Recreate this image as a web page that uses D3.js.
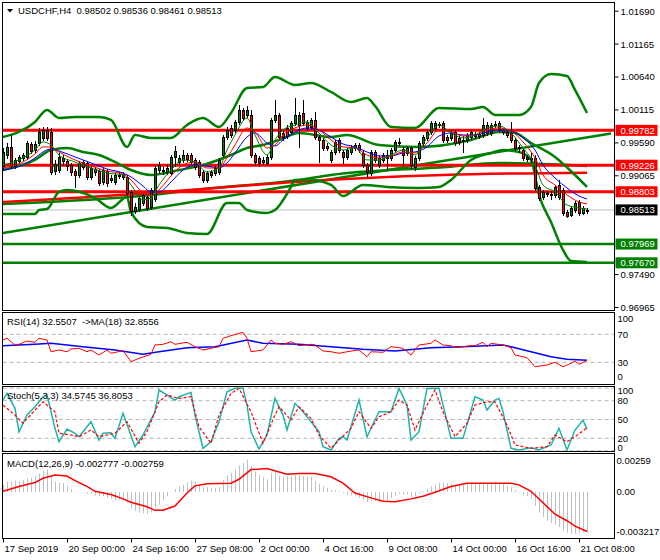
<!DOCTYPE html>
<html><head><meta charset="utf-8">
<script src="https://cdn.jsdelivr.net/npm/d3@7"></script>
<style>
html,body{margin:0;padding:0;background:#fff;}
svg{display:block;}
text{font-family:"Liberation Sans",Arial,sans-serif;font-size:9.5px;fill:#000;white-space:pre;}
</style></head><body>
<svg id="c" width="660" height="560"></svg>
<script>
// ---------------- DATA ----------------
const symbol = "USDCHF,H4";
const open = [0.99214,0.99389,0.99517,0.99214,0.99294,0.99342,0.99358,0.99565,0.99469,0.99581,
0.99661,0.99788,0.99756,0.99134,0.99150,0.99342,0.99294,0.99230,0.99134,0.99070,
0.99278,0.99262,0.99039,0.99166,0.99134,0.98959,0.99134,0.98991,0.98959,0.99055,
0.99086,0.99039,0.98799,0.98496,0.98528,0.98624,0.98720,0.98560,0.98688,0.99150,
0.99134,0.99118,0.99102,0.99358,0.99278,0.99310,0.99389,0.99389,0.99310,0.99278,
0.99118,0.98991,0.99118,0.99102,0.99118,0.99389,0.99676,0.99820,0.99788,0.99916,
1.00107,1.00027,1.00027,0.99389,0.99342,0.99310,0.99262,0.99358,0.99948,1.00027,
0.99740,0.99820,0.99756,0.99900,0.99868,1.00059,0.99820,0.99836,0.99948,0.99676,
0.99629,0.99533,0.99310,0.99437,0.99629,0.99437,0.99358,0.99437,0.99501,0.99549,
0.99421,0.99230,0.99102,0.99437,0.99230,0.99310,0.99342,0.99342,0.99469,0.99597,
0.99485,0.99421,0.99501,0.99198,0.99342,0.99581,0.99661,0.99756,0.99820,0.99868,
0.99900,0.99676,0.99661,0.99756,0.99661,0.99629,0.99629,0.99676,0.99724,0.99692,
0.99708,0.99868,0.99740,0.99884,0.99900,0.99788,0.99756,0.99740,0.99629,0.99517,
0.99469,0.99358,0.99342,0.99342,0.98879,0.98720,0.98784,0.98768,0.98752,0.98911,
0.98831,0.98481,0.98433,0.98512,0.98640,0.98465,0.98502];
const high = [0.99501,0.99581,0.99708,0.99342,0.99389,0.99421,0.99613,0.99597,0.99613,0.99820,
0.99836,0.99836,0.99820,0.99310,0.99421,0.99389,0.99326,0.99262,0.99166,0.99294,
0.99310,0.99294,0.99214,0.99198,0.99166,0.99182,0.99166,0.99070,0.99102,0.99118,
0.99118,0.99070,0.98831,0.98624,0.98736,0.98784,0.98752,0.98863,0.99214,0.99278,
0.99198,0.99230,0.99389,0.99533,0.99389,0.99469,0.99421,0.99421,0.99342,0.99310,
0.99150,0.99134,0.99150,0.99214,0.99342,0.99708,0.99836,0.99868,0.99948,1.00187,
1.00139,1.00171,1.00107,0.99421,0.99374,0.99358,0.99389,0.99979,1.00266,1.00059,
0.99772,0.99868,0.99932,1.00298,1.00075,1.00266,0.99948,0.99979,1.00075,0.99708,
0.99661,0.99581,0.99469,0.99629,0.99661,0.99469,0.99501,0.99549,0.99581,0.99581,
0.99469,0.99262,0.99469,0.99469,0.99389,0.99421,0.99469,0.99501,0.99629,0.99661,
0.99517,0.99533,0.99533,0.99374,0.99613,0.99708,0.99788,0.99932,0.99932,0.99916,
0.99932,0.99708,0.99788,0.99788,0.99692,0.99692,0.99740,0.99788,0.99756,0.99756,
0.99979,0.99916,0.99900,0.99932,0.99932,0.99820,0.99788,0.99916,0.99661,0.99549,
0.99501,0.99389,0.99421,0.99389,0.98911,0.98831,0.98815,0.98815,0.98911,0.98991,
0.98863,0.98512,0.98576,0.98656,0.98672,0.98576,0.98536];
const low = [0.99150,0.99342,0.99182,0.99182,0.99262,0.99310,0.99326,0.99421,0.99437,0.99549,
0.99629,0.99629,0.99086,0.99086,0.99118,0.99230,0.99150,0.99070,0.98879,0.99039,
0.99166,0.99007,0.99007,0.99070,0.98911,0.98927,0.98895,0.98959,0.98927,0.99023,
0.99007,0.98752,0.98433,0.98465,0.98496,0.98592,0.98512,0.98528,0.98656,0.99118,
0.99086,0.99086,0.99070,0.99214,0.99246,0.99278,0.99294,0.99246,0.99166,0.99039,
0.98959,0.98959,0.99039,0.99070,0.99086,0.99358,0.99645,0.99676,0.99756,0.99884,
0.99948,0.99995,0.99358,0.99230,0.99214,0.99246,0.99230,0.99326,0.99916,0.99645,
0.99629,0.99661,0.99724,0.99868,0.99517,0.99868,0.99788,0.99804,0.99645,0.99278,
0.99469,0.99469,0.99278,0.99405,0.99437,0.99262,0.99326,0.99405,0.99469,0.99437,
0.99198,0.99039,0.99070,0.99278,0.99198,0.99278,0.99150,0.99310,0.99437,0.99549,
0.99230,0.99389,0.99182,0.99150,0.99310,0.99549,0.99629,0.99724,0.99788,0.99836,
0.99597,0.99597,0.99629,0.99549,0.99565,0.99437,0.99597,0.99645,0.99661,0.99661,
0.99676,0.99708,0.99708,0.99836,0.99756,0.99724,0.99676,0.99597,0.99469,0.99437,
0.99310,0.99294,0.99278,0.98831,0.98672,0.98688,0.98736,0.98688,0.98720,0.98688,
0.98433,0.98401,0.98417,0.98481,0.98433,0.98449,0.98461];
const close = [0.99437,0.99517,0.99214,0.99310,0.99358,0.99389,0.99581,0.99453,0.99565,0.99756,
0.99788,0.99661,0.99118,0.99246,0.99358,0.99294,0.99214,0.99118,0.99070,0.99262,
0.99198,0.99039,0.99182,0.99118,0.98943,0.99150,0.98943,0.99023,0.99070,0.99070,
0.99039,0.98784,0.98496,0.98560,0.98704,0.98752,0.98544,0.98831,0.99182,0.99230,
0.99150,0.99182,0.99358,0.99453,0.99342,0.99389,0.99326,0.99278,0.99198,0.99070,
0.98991,0.99102,0.99070,0.99182,0.99310,0.99676,0.99788,0.99708,0.99916,1.00107,
0.99979,1.00107,0.99389,0.99278,0.99262,0.99278,0.99358,0.99948,1.00027,0.99676,
0.99676,0.99692,0.99900,1.00027,1.00027,0.99900,0.99916,0.99948,0.99676,0.99629,
0.99501,0.99501,0.99437,0.99597,0.99469,0.99358,0.99469,0.99517,0.99549,0.99469,
0.99230,0.99118,0.99437,0.99310,0.99342,0.99389,0.99389,0.99469,0.99597,0.99581,
0.99389,0.99501,0.99230,0.99342,0.99581,0.99676,0.99756,0.99900,0.99900,0.99884,
0.99629,0.99629,0.99756,0.99581,0.99597,0.99613,0.99708,0.99756,0.99692,0.99724,
0.99868,0.99740,0.99868,0.99868,0.99788,0.99756,0.99708,0.99629,0.99501,0.99501,
0.99342,0.99326,0.99326,0.98863,0.98704,0.98799,0.98768,0.98752,0.98879,0.98720,
0.98465,0.98417,0.98544,0.98624,0.98465,0.98544,0.98513];

// thin moving averages (fast green, mid red, slow blue), read at these bars
const maIdx  = [0,5,8,10,12,14,18,22,26,30,32,35,37,39,42,45,48,51,54,56,58,61,63,66,68,70,73,76,79,82,85,88,91,94,97,100,103,106,109,112,115,118,121,124,127,130,133,135,138,141,144,146];
const maFast = [0.99230,0.99342,0.99469,0.99597,0.99549,0.99389,0.99278,0.99182,0.99102,0.99070,0.98911,0.98672,0.98704,0.98911,0.99150,0.99310,0.99278,0.99118,0.99182,0.99469,0.99708,0.99979,0.99708,0.99389,0.99629,0.99788,0.99868,0.99916,0.99740,0.99549,0.99469,0.99501,0.99310,0.99310,0.99389,0.99469,0.99389,0.99661,0.99868,0.99740,0.99661,0.99708,0.99820,0.99852,0.99740,0.99501,0.99230,0.98911,0.98799,0.98592,0.98544,0.98528];
const maMid  = [0.99182,0.99278,0.99405,0.99517,0.99517,0.99437,0.99310,0.99214,0.99134,0.99086,0.98991,0.98784,0.98736,0.98831,0.99055,0.99230,0.99278,0.99182,0.99182,0.99342,0.99549,0.99820,0.99756,0.99501,0.99549,0.99708,0.99820,0.99868,0.99788,0.99629,0.99517,0.99501,0.99389,0.99342,0.99374,0.99437,0.99421,0.99581,0.99788,0.99756,0.99692,0.99708,0.99788,0.99820,0.99772,0.99597,0.99342,0.99070,0.98911,0.98752,0.98640,0.98608];
const maSlow = [0.99150,0.99230,0.99342,0.99437,0.99485,0.99453,0.99358,0.99262,0.99166,0.99102,0.99039,0.98895,0.98799,0.98799,0.98959,0.99150,0.99230,0.99214,0.99182,0.99262,0.99421,0.99676,0.99740,0.99581,0.99533,0.99629,0.99756,0.99820,0.99788,0.99676,0.99565,0.99517,0.99437,0.99374,0.99374,0.99421,0.99437,0.99517,0.99692,0.99740,0.99708,0.99708,0.99756,0.99788,0.99772,0.99661,0.99469,0.99230,0.99023,0.98863,0.98736,0.98688];

// bands
const bbUpIdx = [0,4,8,11,14,18,24,27,31,33,37,42,46,50,54,57,61,65,68,73,77,82,87,91,93,97,103,109,117,120,123,129,132,134,137,141,143,146];
const bbUpVal = [0.99676,0.99756,0.99916,1.00107,0.99979,0.99995,0.99995,0.99948,0.99517,0.99708,0.99661,0.99661,0.99868,0.99979,0.99836,1.00059,1.00458,1.00474,1.00633,1.00506,1.00537,1.00394,1.00235,1.00298,1.00171,0.99836,0.99820,1.00139,1.00123,1.00155,1.00027,1.00027,1.00155,1.00537,1.00681,1.00649,1.00426,1.00059];
const bbMidIdx = [0,8,12,16,20,24,28,32,37,44,50,57,61,65,69,74,82,86,94,104,117,124,128,132,138,143,146];
const bbMidVal = [0.99150,0.99310,0.99469,0.99501,0.99437,0.99389,0.99278,0.99150,0.99070,0.99150,0.99230,0.99389,0.99501,0.99549,0.99629,0.99740,0.99676,0.99708,0.99549,0.99517,0.99629,0.99756,0.99740,0.99581,0.99358,0.99070,0.98879];
const bbLowIdx = [0,8,9,11,14,16,23,27,31,32,36,41,46,51,56,59,61,66,68,72,73,77,82,85,90,96,104,109,112,117,122,125,129,132,134,137,140,142,146];
const bbLowVal = [0.98449,0.98449,0.98512,0.98528,0.98799,0.98831,0.98704,0.98544,0.98720,0.98481,0.98242,0.98226,0.98146,0.98130,0.98624,0.98624,0.98512,0.98465,0.98512,0.98879,0.98991,0.98991,0.98911,0.98736,0.98911,0.98879,0.98863,0.98879,0.98991,0.99310,0.99421,0.99469,0.99437,0.99310,0.98752,0.98321,0.97875,0.97699,0.97683];

// long lines
const redLongIdx = [0,36,50,73,110,146];
const redLongVal = [0.98640,0.98779,0.98847,0.98959,0.99070,0.99107];
const greenLongIdx = [0,37,50,74,82,111,124,146];
const greenLongVal = [0.98608,0.98752,0.98847,0.98991,0.99070,0.99198,0.99262,0.99214];
const trendIdx = [0,152];
const trendVal = [0.98146,0.99732];

// levels
const redLevels = [0.99782,0.99226,0.98803];
const greenLevels = [0.97969,0.97670];
const lastPrice = 0.98513;
const priceTicks = [1.01690,1.01165,1.00640,1.00115,0.99590,0.99065,0.97490,0.96965];

// RSI
const rsiIdx = [0,1,3,4,6,8,9,11,12,14,16,17,19,21,22,24,26,27,30,32,34,37,38,40,42,43,46,48,50,52,54,55,57,60,61,62,65,67,68,70,72,74,77,78,80,82,84,87,89,91,92,95,97,100,102,104,107,108,110,112,113,117,118,120,121,122,125,127,128,131,133,136,138,140,142,143,144,146];
const rsiVal = [61.9,64.3,54.7,55.7,60.4,58.6,64.3,61.9,45.1,47.6,45.1,49.0,50.0,45.1,47.6,40.4,47.6,42.9,46.6,30.9,35.7,41.4,54.7,55.7,59.4,55.7,58.6,52.3,47.6,50.0,52.3,64.3,68.0,72.9,64.3,45.1,47.6,61.9,57.1,55.7,59.4,53.7,55.7,54.7,46.1,45.1,42.9,46.1,47.6,38.0,45.1,44.3,52.3,50.0,40.4,54.7,57.1,61.9,54.7,53.7,50.9,53.7,53.7,58.6,52.3,57.1,54.7,50.9,40.4,36.6,23.7,26.1,30.0,23.7,28.6,31.9,27.1,32.55];
const rsiMaIdx = [0,8,12,20,28,35,39,46,53,61,65,74,82,90,98,107,115,125,128,132,137,141,146];
const rsiMaVal = [53.7,55.7,57.1,52.3,47.6,41.4,45.1,50.9,52.3,61.9,57.1,55.7,52.3,48.6,46.1,50.9,52.3,54.7,50.9,45.1,38.0,34.3,32.86];
const rsiLevels = [70,30];
const rsiLabels = [100,70,30,0];

// Stochastic
const stochKIdx = [0,1,3,4,6,8,10,11,13,14,16,18,19,22,24,25,27,28,30,33,35,38,39,43,44,47,48,50,52,54,56,58,60,61,62,64,66,68,70,71,73,75,77,79,80,82,84,85,86,89,91,94,97,99,101,102,104,106,109,112,115,118,120,121,123,124,125,127,129,132,134,137,139,141,143,145,146];
const stochKVal = [81.0,91.7,67.8,30.5,57.1,70.3,86.3,89.0,35.9,14.5,34.8,27.9,22.5,46.4,17.2,27.9,28.9,19.9,59.8,6.5,25.2,62.4,97.0,81.0,86.3,93.3,57.1,4.0,14.5,46.4,94.3,100,100,73.1,30.5,2.9,25.2,83.7,57.1,33.2,75.8,62.4,46.4,30.5,6.5,1.3,19.9,22.5,17.2,81.0,22.5,62.4,62.4,99.7,73.1,17.2,30.5,99.7,100,19.9,19.9,86.3,81.0,65.1,81.0,83.7,62.4,4.0,1.3,4.9,1.3,9.3,35.9,1.3,33.2,49.1,34.57];
const stochDIdx = [0,3,5,8,10,13,14,17,19,22,24,28,31,34,36,39,41,44,47,49,52,54,57,59,62,65,68,69,72,74,77,79,82,84,87,89,92,94,97,99,101,103,106,108,110,113,116,118,121,123,126,128,132,136,138,141,143,146];
const stochDVal = [73.1,57.1,43.9,65.1,78.3,62.4,27.9,25.2,22.5,33.2,22.5,27.9,46.4,12.0,30.5,78.3,89.0,83.7,86.3,38.4,12.0,57.1,91.7,99.7,62.4,12.0,57.1,70.3,49.1,70.3,51.8,25.2,4.0,17.2,35.9,62.4,35.9,54.4,62.4,81.0,73.1,33.2,73.1,97.0,62.4,22.5,43.9,73.1,78.3,78.3,41.2,9.3,4.0,6.5,25.2,14.5,22.5,36.81];
const stochLevels = [100,80,50,20,0];
const stochLabels = [100,80,50,20,0];

// MACD
const macdHist = [0.00050,0.00073,0.00073,0.00080,0.00073,0.00084,0.00096,0.00103,0.00107,0.00130,
0.00148,0.00157,0.00103,0.00073,0.00066,0.00062,0.00043,0.00021,0.00005,0.00002,
-0.00002,-0.00011,-0.00014,-0.00025,-0.00030,-0.00030,-0.00041,-0.00048,-0.00057,-0.00052,
-0.00048,-0.00075,-0.00116,-0.00132,-0.00144,-0.00148,-0.00155,-0.00144,-0.00109,-0.00087,
-0.00057,-0.00030,-0.00002,0.00021,0.00039,0.00050,0.00066,0.00080,0.00073,0.00050,
0.00034,0.00034,0.00027,0.00027,0.00034,0.00084,0.00119,0.00135,0.00157,0.00187,
0.00203,0.00226,0.00180,0.00141,0.00119,0.00103,0.00089,0.00135,0.00141,0.00112,
0.00107,0.00107,0.00112,0.00119,0.00119,0.00112,0.00107,0.00107,0.00080,0.00057,
0.00039,0.00027,0.00016,0.00011,0.00005,-0.00007,-0.00018,-0.00025,-0.00030,-0.00041,
-0.00052,-0.00071,-0.00064,-0.00064,-0.00071,-0.00071,-0.00057,-0.00041,-0.00025,-0.00011,
-0.00018,-0.00018,-0.00034,-0.00030,-0.00011,0.00005,0.00021,0.00039,0.00050,0.00066,
0.00066,0.00062,0.00062,0.00050,0.00050,0.00050,0.00062,0.00062,0.00062,0.00062,
0.00066,0.00066,0.00066,0.00073,0.00066,0.00057,0.00043,0.00034,0.00016,-0.00002,
-0.00018,-0.00030,-0.00048,-0.00098,-0.00144,-0.00178,-0.00201,-0.00217,-0.00230,-0.00246,
-0.00269,-0.00285,-0.00292,-0.00292,-0.00285,-0.00280,-0.002777];
const macdSigIdx = [0,4,8,10,13,16,18,21,23,27,30,32,36,38,40,43,46,48,51,57,59,62,66,71,74,78,82,85,88,92,95,98,102,105,108,112,116,123,127,129,132,135,138,141,143,146];
const macdSigVal = [0.00005,0.00039,0.00066,0.00096,0.00119,0.00112,0.00080,0.00039,0.00005,-0.00018,-0.00048,-0.00071,-0.00103,-0.00128,-0.00128,-0.00098,-0.00007,0.00043,0.00057,0.00062,0.00089,0.00157,0.00164,0.00125,0.00130,0.00130,0.00107,0.00062,-0.00007,-0.00041,-0.00064,-0.00068,-0.00048,-0.00030,-0.00002,0.00039,0.00062,0.00062,0.00062,0.00050,0.00005,-0.00075,-0.00155,-0.00201,-0.00239,-0.002759];
const macdLabels = ["0.00259","0.00","-0.003217"];
const macdLabelVals = [0.00259,0,-0.003217];

// time axis
const tickBars = [0,16,32,48,64,80,96,112,128,144];
const tickLabels = ["17 Sep 2019","20 Sep 00:00","24 Sep 16:00","27 Sep 08:00","2 Oct 00:00","4 Oct 16:00","9 Oct 08:00","14 Oct 00:00","16 Oct 16:00","21 Oct 08:00"];

// headers
const rsiTitle = "RSI(14) 32.5507  ->MA(18) 32.8556";
const stochTitle = "Stoch(5,3,3) 34.5745 36.8053";
const macdTitle = "MACD(12,26,9) -0.002777 -0.002759";

// ---------------- DRAW ----------------
const svg = d3.select('#c');
const FL = 2.5, FR = 614.5;
const P = {main:{t:2.5,b:310.5}, rsi:{t:312.5,b:384.5}, sto:{t:386.5,b:451.5}, macd:{t:453.5,b:538.5}};
const fmt5 = d3.format('.5f');
const x = d3.scaleLinear().domain([0,146]).range([3,587]);
const y = d3.scaleLinear().domain([0.96965,1.01690]).range([307,10.7]);
const yR = d3.scaleLinear().domain([0,100]).range([383.3,313.3]);
const yS = d3.scaleLinear().domain([0,100]).range([450.8,388.2]);
const yM = d3.scaleLinear().domain([-0.003217,0.00259]).range([538,455]);
const pts = (idx, vals) => idx.map((d,k)=>[d, vals[k]]);

const defs = svg.append('defs');
Object.entries(P).forEach(([k,p])=>{
  defs.append('clipPath').attr('id','clip-'+k).append('rect')
    .attr('x',FL+0.5).attr('y',p.t+0.5).attr('width',FR-FL-1).attr('height',p.b-p.t-1);
});

// ---- main panel ----
const gMain = svg.append('g').attr('clip-path','url(#clip-main)');
const hline = (g, v, color, w) => g.append('line').attr('x1',FL).attr('x2',FR)
  .attr('y1',y(v)).attr('y2',y(v)).attr('stroke',color).attr('stroke-width',w);
hline(gMain, lastPrice, '#c0c0c0', 1);

const lineP = d3.line().x(d=>x(d[0])).y(d=>y(d[1]));
const lineS = d3.line().x(d=>x(d[0])).y(d=>y(d[1])).curve(d3.curveMonotoneX);

gMain.append('path').attr('d', lineP(pts(trendIdx,trendVal))).attr('fill','none').attr('stroke','#008000').attr('stroke-width',2.5);
gMain.append('path').attr('d', lineS(pts(greenLongIdx,greenLongVal))).attr('fill','none').attr('stroke','#008000').attr('stroke-width',2.5);
gMain.append('path').attr('d', lineS(pts(redLongIdx,redLongVal))).attr('fill','none').attr('stroke','#ff0000').attr('stroke-width',2.5);
redLevels.forEach(v=>hline(gMain, v, '#ff0000', 3));
greenLevels.forEach(v=>hline(gMain, v, '#008000', 2.5));
[[bbUpIdx,bbUpVal],[bbMidIdx,bbMidVal],[bbLowIdx,bbLowVal]].forEach(([a,b])=>{
  gMain.append('path').attr('d', lineS(pts(a,b))).attr('fill','none').attr('stroke','#008000').attr('stroke-width',2.5);
});

// candles
const gC = gMain.append('g');
open.forEach((o,i)=>{
  const c = close[i], h = high[i], l = low[i];
  const cx = Math.round(x(i));
  gC.append('line').attr('x1',cx+0.5).attr('x2',cx+0.5)
    .attr('y1',Math.round(y(h))).attr('y2',Math.round(y(l))+1).attr('stroke','#000').attr('stroke-width',1);
  const yt = Math.round(y(Math.max(o,c))), yb = Math.round(y(Math.min(o,c)));
  if (yb - yt < 1) {
    gC.append('line').attr('x1',cx-1).attr('x2',cx+2).attr('y1',yt+0.5).attr('y2',yt+0.5).attr('stroke','#000');
  } else {
    gC.append('rect').attr('x',cx-0.5).attr('y',yt+0.5).attr('width',2).attr('height',yb-yt)
      .attr('fill', c >= o ? '#008000' : '#ff0000').attr('stroke','#000').attr('stroke-width',1);
  }
});

// thin MAs
[[maSlow,'#0000ff'],[maMid,'#ff0000'],[maFast,'#008000']].forEach(([v,col])=>{
  gMain.append('path').attr('d', lineS(pts(maIdx,v))).attr('fill','none').attr('stroke',col).attr('stroke-width',1);
});

// ---- RSI ----
const gR = svg.append('g').attr('clip-path','url(#clip-rsi)');
rsiLevels.forEach(v=>gR.append('line').attr('x1',FL).attr('x2',FR).attr('y1',yR(v)).attr('y2',yR(v))
  .attr('stroke','#b4b4b4').attr('stroke-dasharray','4,3'));
const lineR = d3.line().x(d=>x(d[0])).y(d=>yR(d[1]));
gR.append('path').attr('d', lineR(pts(rsiMaIdx,rsiMaVal))).attr('fill','none').attr('stroke','#0000ff').attr('stroke-width',1.5);
gR.append('path').attr('d', lineR(pts(rsiIdx,rsiVal))).attr('fill','none').attr('stroke','#ff0000').attr('stroke-width',1);

// ---- Stochastic ----
const gS = svg.append('g').attr('clip-path','url(#clip-sto)');
stochLevels.forEach(v=>gS.append('line').attr('x1',FL).attr('x2',FR).attr('y1',yS(v)).attr('y2',yS(v))
  .attr('stroke','#b4b4b4').attr('stroke-dasharray','4,3'));
const lineSt = d3.line().x(d=>x(d[0])).y(d=>yS(d[1]));
gS.append('path').attr('d', lineSt(pts(stochKIdx,stochKVal))).attr('fill','none').attr('stroke','#20b2aa').attr('stroke-width',1.5);
gS.append('path').attr('d', lineSt(pts(stochDIdx,stochDVal))).attr('fill','none').attr('stroke','#ff0000').attr('stroke-width',1.2).attr('stroke-dasharray','3,2');

// ---- MACD ----
const gM = svg.append('g').attr('clip-path','url(#clip-macd)');
macdHist.forEach((v,i)=>{
  const cx = Math.round(x(i)) + 0.5;
  gM.append('line').attr('x1',cx).attr('x2',cx).attr('y1',yM(0)).attr('y2',yM(v))
    .attr('stroke','#c0c0c0').attr('stroke-width',1);
});
const lineM = d3.line().x(d=>x(d[0])).y(d=>yM(d[1]));
gM.append('path').attr('d', lineM(pts(macdSigIdx,macdSigVal))).attr('fill','none').attr('stroke','#ff0000').attr('stroke-width',1.5);

// ---- frames ----
Object.values(P).forEach(p=>{
  svg.append('rect').attr('x',FL).attr('y',p.t).attr('width',FR-FL).attr('height',p.b-p.t)
    .attr('fill','none').attr('stroke','#000').attr('stroke-width',1);
});

// ---- price axis ----
const ax = svg.append('g').attr('transform',`translate(${FR},0)`)
  .call(d3.axisRight(y).tickValues(priceTicks).tickFormat(fmt5).tickSize(4).tickPadding(2));
ax.select('.domain').remove();
ax.selectAll('text').attr('dy','0.36em');

// level boxes
const box = (v, col) => {
  const yy = y(v);
  svg.append('rect').attr('x',FR+1).attr('y',yy-5.5).attr('width',42).attr('height',11).attr('fill',col);
  svg.append('text').attr('x',FR+6).attr('y',yy+3.4).text(fmt5(v)).style('fill','#fff');
};
redLevels.forEach(v=>box(v,'#ff0000'));
greenLevels.forEach(v=>box(v,'#008000'));
box(lastPrice,'#000000');

// RSI labels
rsiLabels.forEach(v=>{
  const yy = Math.max(P.rsi.t+6.5, Math.min(P.rsi.b-7.5, yR(v)));
  svg.append('text').attr('x',FR+3).attr('y',yy+3.4).text(String(v));
});
// Stoch labels
stochLabels.forEach(v=>{
  const yy = Math.max(P.sto.t+4, Math.min(P.sto.b-3.5, yS(v)));
  svg.append('text').attr('x',FR+3).attr('y',yy+3.4).text(String(v));
});
// MACD labels
macdLabels.forEach((s,k)=>{
  const yy = Math.max(P.macd.t+7, Math.min(P.macd.b-6.5, yM(macdLabelVals[k])));
  svg.append('text').attr('x',FR+2).attr('y',yy+3.4).text(s);
});

// ---- time axis ----
const tx = svg.append('g').attr('transform',`translate(0,${P.macd.b})`)
  .call(d3.axisBottom(x).tickValues(tickBars).tickFormat((d,k)=>tickLabels[k]).tickSize(4).tickPadding(3));
tx.select('.domain').remove();
tx.selectAll('text').attr('text-anchor','start').attr('x',1);

// ---- headers ----
svg.append('path').attr('d','M7,9 L13,9 L10,12.5 Z').attr('fill','#000');
svg.append('text').attr('x',18).attr('y',13.8)
  .text(symbol + '  ' + [open[146],high[146],low[146],close[146]].map(fmt5).join(' '));
svg.append('text').attr('x',7).attr('y',324.5).text(rsiTitle);
svg.append('text').attr('x',7).attr('y',398.5).text(stochTitle);
svg.append('text').attr('x',7).attr('y',466.5).text(macdTitle);
</script>
</body></html>
